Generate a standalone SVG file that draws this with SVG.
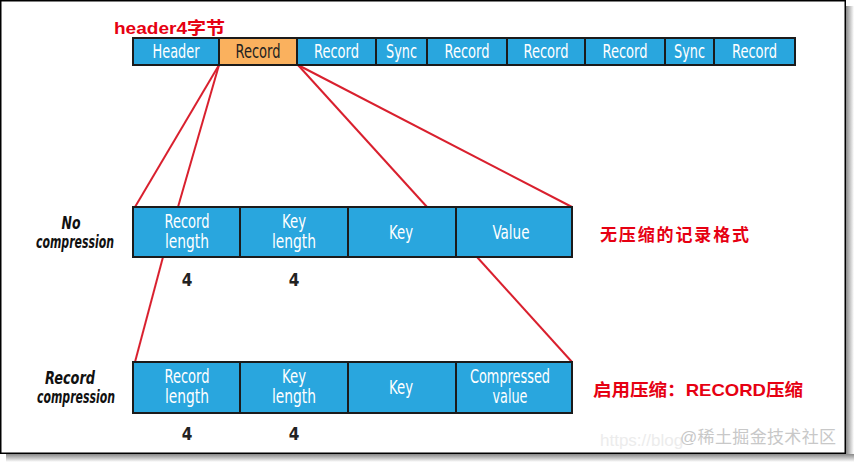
<svg xmlns="http://www.w3.org/2000/svg" width="855" height="463" viewBox="0 0 855 463">
<defs>
<linearGradient id="shR" x1="0" y1="0" x2="1" y2="0"><stop offset="0" stop-color="#888"/><stop offset="1" stop-color="#fff"/></linearGradient>
<linearGradient id="shB" x1="0" y1="0" x2="0" y2="1"><stop offset="0" stop-color="#888"/><stop offset="1" stop-color="#fff"/></linearGradient>
<style>
.cb{fill:#29a6de;stroke:#1b1b1b;stroke-width:2}
.co{fill:#fab15e;stroke:#1b1b1b;stroke-width:2}
.t{font-family:"Liberation Sans Narrow","DejaVu Sans Condensed","Liberation Sans",sans-serif;font-stretch:condensed;font-size:19px;fill:#fff;text-anchor:middle}
.d{fill:#222}
.n{font-family:"Liberation Sans Narrow","DejaVu Sans Condensed","Liberation Sans",sans-serif;font-size:17px;font-weight:bold;fill:#222;text-anchor:middle}
.lb{font-family:"Liberation Sans Narrow","DejaVu Sans Condensed","Liberation Sans",sans-serif;font-stretch:condensed;font-size:17.5px;font-weight:bold;font-style:italic;fill:#111;text-anchor:middle}
.r{font-family:"Liberation Sans","Noto Sans CJK SC",sans-serif;font-weight:bold;font-size:17px;fill:#e60012}
.ln{stroke:#d9202e;stroke-width:2;fill:none}
</style>
</defs>
<rect x="0" y="0" width="855" height="463" fill="#fff"/>
<rect x="846" y="6" width="8" height="455" fill="url(#shR)"/>
<rect x="6" y="454" width="848" height="8" fill="url(#shB)"/>
<rect x="0.75" y="0.75" width="844.5" height="452.5" fill="#fff" stroke="#000" stroke-width="1.5"/>

<text x="114" y="34" class="r" textLength="111" lengthAdjust="spacingAndGlyphs">header4字节</text>

<g id="connectors">
<line class="ln" x1="219" y1="65" x2="135" y2="207"/>
<line class="ln" x1="219" y1="65" x2="178" y2="207"/>
<line class="ln" x1="298" y1="65" x2="427" y2="207"/>
<line class="ln" x1="298" y1="65" x2="572" y2="207"/>
<line class="ln" x1="163" y1="257" x2="135" y2="362"/>
<line class="ln" x1="477" y1="257" x2="572" y2="362"/>
</g>

<g id="topbar">
<rect class="cb" x="133" y="38" width="86" height="27"/><text class="t" x="176" y="58" textLength="47" lengthAdjust="spacingAndGlyphs">Header</text>
<rect class="co" x="219" y="38" width="78" height="27"/><text class="t d" x="258" y="58" textLength="45" lengthAdjust="spacingAndGlyphs">Record</text>
<rect class="cb" x="297" y="38" width="79" height="27"/><text class="t" x="336.5" y="58" textLength="45" lengthAdjust="spacingAndGlyphs">Record</text>
<rect class="cb" x="376" y="38" width="51" height="27"/><text class="t" x="401.5" y="58" textLength="31" lengthAdjust="spacingAndGlyphs">Sync</text>
<rect class="cb" x="427" y="38" width="80" height="27"/><text class="t" x="467" y="58" textLength="45" lengthAdjust="spacingAndGlyphs">Record</text>
<rect class="cb" x="507" y="38" width="78" height="27"/><text class="t" x="546" y="58" textLength="45" lengthAdjust="spacingAndGlyphs">Record</text>
<rect class="cb" x="585" y="38" width="80" height="27"/><text class="t" x="625" y="58" textLength="45" lengthAdjust="spacingAndGlyphs">Record</text>
<rect class="cb" x="665" y="38" width="49" height="27"/><text class="t" x="689.5" y="58" textLength="31" lengthAdjust="spacingAndGlyphs">Sync</text>
<rect class="cb" x="714" y="38" width="81" height="27"/><text class="t" x="754.5" y="58" textLength="45" lengthAdjust="spacingAndGlyphs">Record</text>
</g>

<g id="nocomp">
<text class="lb" x="71" y="229" textLength="19" lengthAdjust="spacingAndGlyphs">No</text>
<text class="lb" x="75" y="248" textLength="78" lengthAdjust="spacingAndGlyphs">compression</text>
<rect class="cb" x="133" y="207" width="107" height="50"/>
<text class="t" x="187" y="228" textLength="45" lengthAdjust="spacingAndGlyphs">Record</text><text class="t" x="187" y="248" textLength="44" lengthAdjust="spacingAndGlyphs">length</text>
<rect class="cb" x="240" y="207" width="108" height="50"/>
<text class="t" x="294" y="228" textLength="24" lengthAdjust="spacingAndGlyphs">Key</text><text class="t" x="294" y="248" textLength="44" lengthAdjust="spacingAndGlyphs">length</text>
<rect class="cb" x="348" y="207" width="108" height="50"/>
<text class="t" x="401" y="239" textLength="24" lengthAdjust="spacingAndGlyphs">Key</text>
<rect class="cb" x="456" y="207" width="116" height="50"/>
<text class="t" x="511" y="239" textLength="37" lengthAdjust="spacingAndGlyphs">Value</text>
<text class="n" x="187" y="286">4</text>
<text class="n" x="294" y="286">4</text>
<text class="r" x="600" y="241" textLength="149" lengthAdjust="spacing">无压缩的记录格式</text>
</g>

<g id="recordcomp">
<text class="lb" x="70" y="384" textLength="50" lengthAdjust="spacingAndGlyphs">Record</text>
<text class="lb" x="76" y="403" textLength="78" lengthAdjust="spacingAndGlyphs">compression</text>
<rect class="cb" x="133" y="362" width="107" height="51"/>
<text class="t" x="187" y="383" textLength="45" lengthAdjust="spacingAndGlyphs">Record</text><text class="t" x="187" y="403" textLength="44" lengthAdjust="spacingAndGlyphs">length</text>
<rect class="cb" x="240" y="362" width="108" height="51"/>
<text class="t" x="294" y="383" textLength="24" lengthAdjust="spacingAndGlyphs">Key</text><text class="t" x="294" y="403" textLength="44" lengthAdjust="spacingAndGlyphs">length</text>
<rect class="cb" x="348" y="362" width="108" height="51"/>
<text class="t" x="401" y="394" textLength="24" lengthAdjust="spacingAndGlyphs">Key</text>
<rect class="cb" x="456" y="362" width="116" height="51"/>
<text class="t" x="510" y="383" textLength="80" lengthAdjust="spacingAndGlyphs">Compressed</text><text class="t" x="510" y="403" textLength="35" lengthAdjust="spacingAndGlyphs">value</text>
<text class="n" x="187" y="440">4</text>
<text class="n" x="294" y="440">4</text>
<text class="r" x="593" y="396" textLength="210" lengthAdjust="spacingAndGlyphs">启用压缩：RECORD压缩</text>
</g>

<text x="600" y="446" font-family="Liberation Sans,sans-serif" font-size="17" fill="#ececec">https://blog</text>
<text x="680" y="443" font-family="Liberation Sans,'Noto Sans CJK SC',sans-serif" font-size="17" fill="#c8c8c8" textLength="156" lengthAdjust="spacing">@稀土掘金技术社区</text>
</svg>
